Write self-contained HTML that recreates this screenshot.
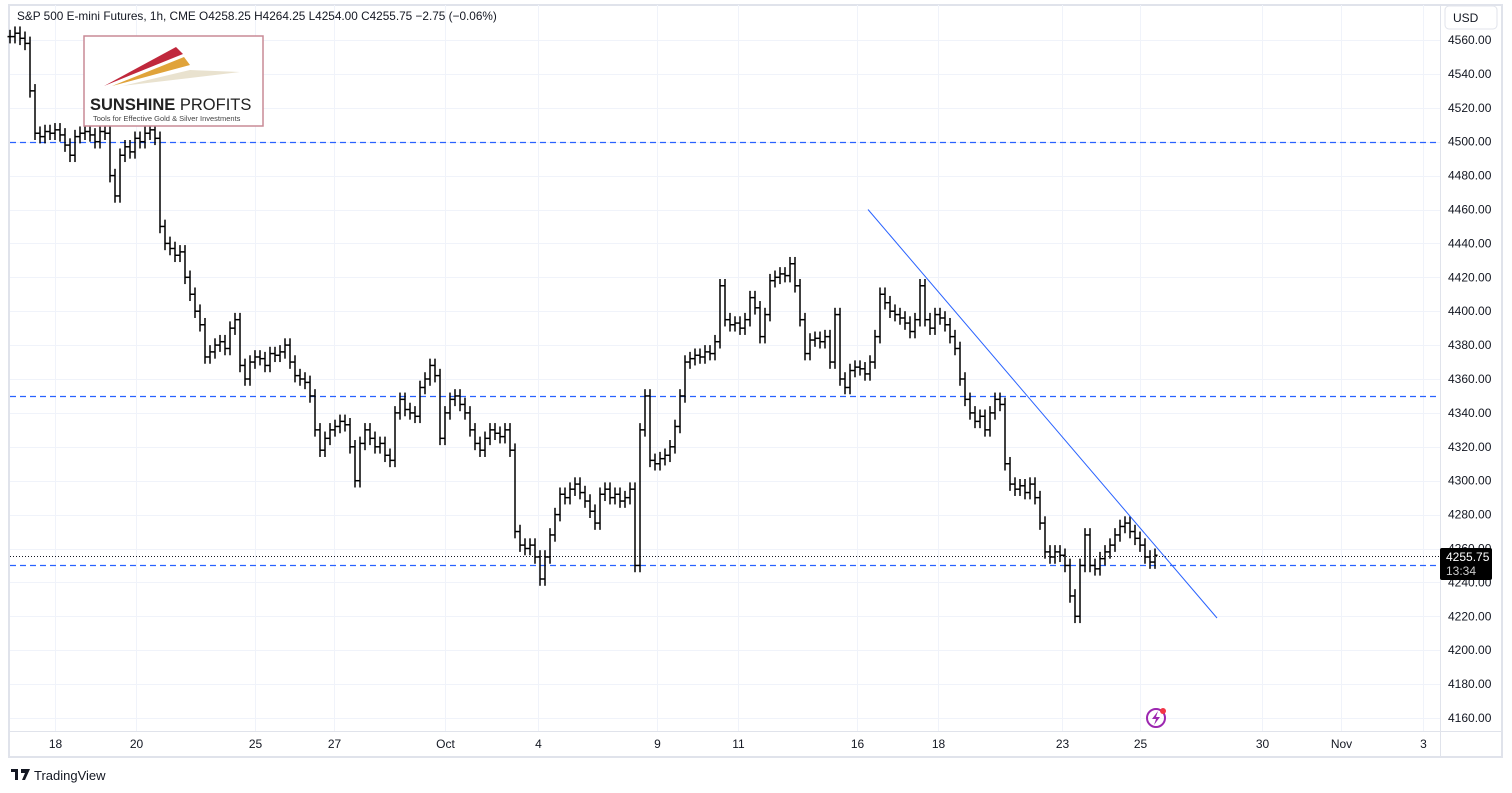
<!DOCTYPE html>
<html><head><meta charset="utf-8">
<style>
body{margin:0;background:#fff;font-family:"Liberation Sans",sans-serif;}
#wrap{position:relative;width:1512px;height:793px;overflow:hidden;}
svg text{font-family:"Liberation Sans",sans-serif;}
</style></head>
<body>
<div id="wrap">
<svg id="chart" width="1512" height="793">
  <rect x="9" y="5" width="1493" height="752" fill="#fff" stroke="#e0e3eb" stroke-width="2"/>
  <g id="grid"></g>
  <g id="levels"></g>
  <g id="bars"></g>
  <g id="trend"></g>
  <line x1="1440.5" y1="5" x2="1440.5" y2="757" stroke="#e0e3eb"/>
  <line x1="9" y1="731.5" x2="1502" y2="731.5" stroke="#e0e3eb"/>
  <g id="yaxis"></g>
  <g id="xaxis"></g>
  <rect x="1445" y="6" width="52" height="23" rx="4" fill="#fff" stroke="#e0e3eb"/>
  <text x="1453" y="22" font-size="12" fill="#131722">USD</text>
  <text x="17" y="20" font-size="11.8" fill="#131722">S&amp;P 500 E-mini Futures, 1h, CME  O4258.25  H4264.25  L4254.00  C4255.75  −2.75 (−0.06%)</text>
  <g>
    <rect x="84" y="36" width="179" height="90" fill="#fff" stroke="#c98a95" stroke-width="1.5"/>
    <polygon points="104,86 176,47 183,54" fill="#c0283c"/>
    <polygon points="112,86 184,57 190,65" fill="#e0a33a"/>
    <polygon points="122,86 190,70 240,72 190,78" fill="#e9e2cf"/>
    <text x="90" y="110" font-size="16.5" font-weight="bold" fill="#222">SUNSHINE <tspan font-weight="normal">PROFITS</tspan></text>
    <text x="93" y="121" font-size="7.5" fill="#444">Tools for Effective Gold &amp; Silver Investments</text>
  </g>
  <g>
    <rect x="1440" y="548" width="52" height="32" rx="2" fill="#000"/>
    <text x="1446" y="561" font-size="12" fill="#fff">4255.75</text>
    <text x="1446" y="575" font-size="12" fill="#ccc">13:34</text>
  </g>
  <g>
    <circle cx="1156" cy="718" r="9" fill="none" stroke="#9c27b0" stroke-width="2"/>
    <path d="M1158,711 L1152,719 L1156,719 L1154,725 L1160,717 L1156,717 Z" fill="#9c27b0"/>
    <circle cx="1163" cy="711" r="3" fill="#f23645"/>
  </g>
  <g>
    <path d="M11,769 h7 v11 h-3 v-8 h-4 z" fill="#131722"/>
    <path d="M21,769 h9 l-5,11 h-3 l3,-7 h-4 z" fill="#131722"/>
    <text x="34" y="780" font-size="13" fill="#131722">TradingView</text>
  </g>
</svg>
</div>
<script>
const priceTicks = [4160,4180,4200,4220,4240,4260,4280,4300,4320,4340,4360,4380,4400,4420,4440,4460,4480,4500,4520,4540,4560];
const dateLabels = ["18","20","25","27","Oct","4","9","11","16","18","23","25","30","Nov","3"];
const dateIndex = [9,25.2,49,64.8,87,105.6,129.4,145.6,169.4,185.6,210.4,226,250.4,266.2,282.6];
const levelPrices = [4500,4350,4250];
const lastPrice = 4255.75;
const trendIdx = [171.6,241.4];
const trendPrice = [4460,4219];
const closes = [4562,4564,4561,4558,4530,4505,4503,4506,4505,4507,4504,4498,4492,4503,4505,4506,4504,4500,4506,4505,
4480,4468,4492,4497,4494,4502,4500,4505,4507,4502,4450,4440,4437,4433,4435,4420,4410,4400,4392,4373,
4376,4380,4382,4378,4390,4395,4368,4360,4370,4373,4372,4368,4375,4374,4376,4380,4370,4362,4360,4358,
4350,4330,4318,4325,4330,4332,4335,4333,4320,4300,4322,4330,4325,4320,4322,4315,4312,4340,4348,4342,
4340,4338,4355,4360,4368,4362,4325,4340,4348,4350,4345,4340,4330,4322,4318,4325,4330,4328,4326,4330,
4318,4270,4262,4260,4262,4255,4242,4255,4268,4280,4292,4290,4295,4298,4293,4288,4282,4275,4292,4295,
4290,4292,4288,4290,4295,4250,4330,4350,4312,4310,4313,4315,4320,4332,4350,4370,4372,4374,4373,4376,
4375,4382,4415,4395,4392,4393,4390,4395,4408,4402,4385,4398,4418,4420,4422,4421,4428,4415,4395,4375,
4383,4384,4382,4385,4370,4398,4360,4355,4365,4367,4366,4363,4370,4385,4410,4405,4400,4398,4396,4393,
4388,4395,4415,4395,4390,4398,4396,4392,4385,4378,4360,4348,4340,4335,4338,4330,4340,4348,4345,4310,
4298,4295,4297,4293,4298,4290,4275,4258,4255,4258,4256,4250,4232,4220,4250,4268,4250,4248,4254,4258,
4262,4268,4273,4275,4270,4266,4262,4255,4252,4256];

const NS="http://www.w3.org/2000/svg";
function X(i){return 10+i*5;}
function Y(p){return 40+(4560-p)*1.695;}
function mk(tag,attrs,parent){const e=document.createElementNS(NS,tag);for(const k in attrs)e.setAttribute(k,attrs[k]);parent.appendChild(e);return e;}
const grid=document.getElementById('grid'),yax=document.getElementById('yaxis'),xax=document.getElementById('xaxis');
priceTicks.forEach(p=>{
  const y=Math.round(Y(p))+0.5;
  const l=mk('line',{x1:10,x2:1440,y1:y,y2:y,stroke:'#f0f3fa'},grid);
  
  
  const t=mk('text',{x:1448,y:Y(p)+4,'font-size':12,fill:'#131722'},yax);
  t.textContent=p.toFixed(2);
  
  
});
dateLabels.forEach((d,k)=>{
  const x=Math.round(X(dateIndex[k]))+0.5;
  const l=mk('line',{x1:x,x2:x,y1:5,y2:731,stroke:'#f0f3fa'},grid);
  
  
  const t=mk('text',{x:x,y:748,'font-size':12,fill:'#131722','text-anchor':'middle'},xax);
  t.textContent=d;
  
  
});
const lv=document.getElementById('levels');
levelPrices.forEach(p=>{
  const y=Math.round(Y(p))+0.5;
  const l=mk('line',{x1:10,x2:1440,y1:y,y2:y,stroke:'#2962ff','stroke-width':1.2,'stroke-dasharray':'6,4'},lv);
  
  
});
const ly=Math.round(Y(lastPrice))+0.5;
const ll=mk('line',{x1:10,x2:1440,y1:ly,y2:ly,stroke:'#131722','stroke-dasharray':'1,2'},lv);


const bg=document.getElementById('bars');
const wick=4;
closes.forEach((c,i)=>{
  const o=i>0?closes[i-1]:c;
  const hi=Math.max(o,c)+wick, lo=Math.min(o,c)-wick;
  const x=X(i);
  const g=mk('g',{stroke:'#000','stroke-width':1.5},bg);
  
  
  mk('line',{x1:x,x2:x,y1:Y(hi),y2:Y(lo)},g);
  mk('line',{x1:x-2.5,x2:x,y1:Y(o),y2:Y(o)},g);
  mk('line',{x1:x,x2:x+2.5,y1:Y(c),y2:Y(c)},g);
});
const tl=mk('line',{x1:X(trendIdx[0]),y1:Y(trendPrice[0]),x2:X(trendIdx[1]),y2:Y(trendPrice[1]),stroke:'#2962ff','stroke-width':1},document.getElementById('trend'));


</script>
</body></html>
